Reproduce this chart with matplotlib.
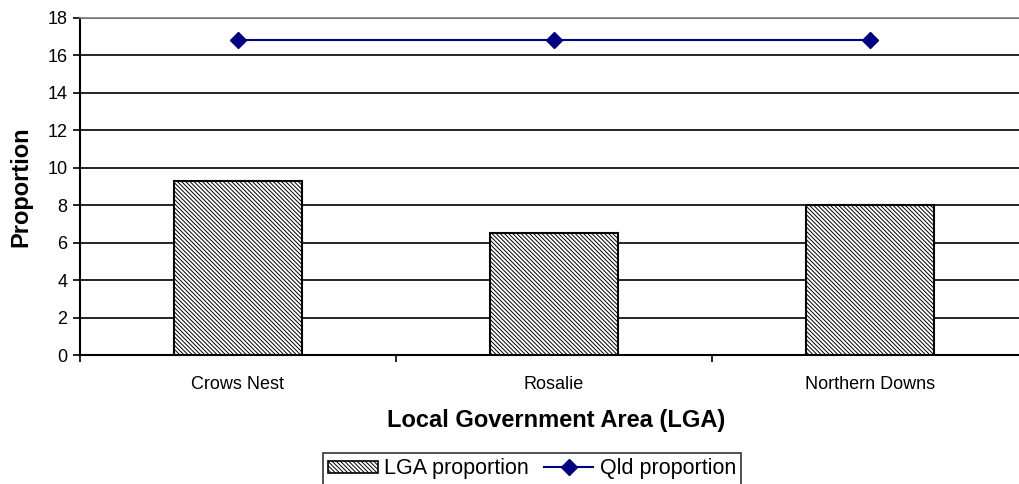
import matplotlib.pyplot as plt
import numpy as np
from matplotlib.lines import Line2D
from matplotlib.patches import Patch

plt.rcParams['font.family'] = ['Liberation Sans', 'DejaVu Sans']
plt.rcParams['hatch.color'] = '#555555'
plt.rcParams['hatch.linewidth'] = 0.7

categories = ['Crows Nest', 'Rosalie', 'Northern Downs']
lga_proportion = [9.3, 6.5, 8.0]
qld_proportion = [16.8, 16.8, 16.8]
y_ticks = [0, 2, 4, 6, 8, 10, 12, 14, 16, 18]

W, H = 1020, 484
fig = plt.figure(figsize=(W / 100, H / 100), dpi=100)
ax = fig.add_axes([80 / W, 1 - 355 / H, (1028 - 80) / W, (355 - 18) / H])

HATCH = '\\' * 8
x = np.arange(len(categories))
ax.bar(x, lga_proportion, width=0.405, color='white', edgecolor='black',
       linewidth=1.5, hatch=HATCH, zorder=3)
ax.plot(x, qld_proportion, color='#000080', linewidth=1.5, marker='D',
        markersize=8.5, zorder=4)

ax.set_xlim(-0.5, len(categories) - 0.5)
ax.set_ylim(0, 18)
ax.set_yticks(y_ticks)
ax.tick_params(axis='y', labelsize=13, length=5, width=1.2, direction='out', pad=4)
ax.set_xticks(x)
ax.set_xticklabels(categories, fontsize=13)
ax.tick_params(axis='x', which='major', length=0, pad=15)
ax.set_xticks(np.arange(-0.5, len(categories)), minor=True)
ax.tick_params(axis='x', which='minor', length=5, width=1.2, direction='out')

ax.yaxis.grid(True, color='black', linewidth=1.2, zorder=0)
ax.set_axisbelow(True)
for side in ['top', 'right']:
    ax.spines[side].set_color('#808080')
    ax.spines[side].set_linewidth(1.2)
ax.spines['left'].set_linewidth(1.5)
ax.spines['bottom'].set_linewidth(1.5)

ax.set_ylabel('Proportion', fontsize=17, fontweight='bold')
ax.yaxis.set_label_coords(-0.062, 0.5)
ax.yaxis.label.set_va('center')
ax.set_xlabel('Local Government Area (LGA)', fontsize=17, fontweight='bold')
ax.xaxis.set_label_coords((556 - 80) / 948, (355 - 420) / 337)
ax.xaxis.label.set_va('center')

handles = [
    Patch(facecolor='white', edgecolor='black', hatch=HATCH, linewidth=1.2),
    Line2D([], [], color='#000080', linewidth=1.5, marker='D', markersize=8.5),
]
leg = fig.legend(handles, ['LGA proportion', 'Qld proportion'], loc='upper center',
                 bbox_to_anchor=(532 / W, 1 - 453 / H), ncol=2, fontsize=15.5,
                 frameon=True, fancybox=False, edgecolor='black',
                 handlelength=2.3, handletextpad=0.3, columnspacing=0.7,
                 borderpad=0.25, borderaxespad=0, handleheight=0.5)
leg.get_frame().set_linewidth(1.2)

fig.savefig('out.png', dpi=100)
